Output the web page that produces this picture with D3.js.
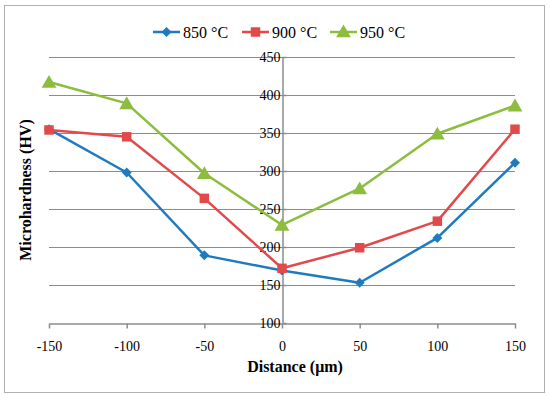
<!DOCTYPE html>
<html>
<head>
<meta charset="utf-8">
<script src="https://cdn.jsdelivr.net/npm/d3@7"></script>
<style>
body{margin:0;background:#fff;}
text{font-family:"Liberation Serif","Times New Roman",serif;fill:#000;}
</style>
</head>
<body>
<svg id="chart" width="550" height="398"></svg>
<script>
'use strict'
// data
var distances = [-150, -100, -50, 0, 50, 100, 150];
var hv850 = [355, 298, 189, 169, 153, 212, 311];
var hv900 = [354, 345, 264, 172, 199, 234, 355];
var hv950 = [417, 389, 297, 229, 277, 349, 386];
var seriesNames = ['850 °C', '900 °C', '950 °C'];
var yTicks = [100, 150, 200, 250, 300, 350, 400, 450];
var xTicks = [-150, -100, -50, 0, 50, 100, 150];

var colors = ['#1f7bc0', '#e2494b', '#8cbd3f'];
var symbols = [d3.symbolSquare, d3.symbolSquare, d3.symbolTriangle];
var symSizes = [50, 90, 95];
var symRotate = [45, 0, 0];

var svg = d3.select('#chart');
var x = d3.scaleLinear().domain([-150, 150]).range([49, 515]);
var y = d3.scaleLinear().domain([100, 450]).range([323, 57]);
var fmt = function(d){ return String(d); };

// outer frame
svg.append('rect').attr('x', 4.5).attr('y', 5.5).attr('width', 540).attr('height', 387)
	.attr('fill', 'none').attr('stroke', '#b0b0b0').attr('stroke-width', 1);

// gridlines
svg.append('g').selectAll('line').data(yTicks.slice(1)).join('line')
	.attr('x1', x(-150)).attr('x2', x(150))
	.attr('y1', function(d){ return Math.round(y(d)) + 0.5; })
	.attr('y2', function(d){ return Math.round(y(d)) + 0.5; })
	.attr('stroke', '#8c8c8c').attr('stroke-width', 1);

// x axis
var xAxis = svg.append('g').attr('transform', 'translate(0,' + (Math.round(y(100)) + 0.5) + ')')
	.call(d3.axisBottom(x).tickValues(xTicks).tickFormat(fmt).tickSize(5).tickSizeOuter(0).tickPadding(13));
// y axis at x = 0
var yAxis = svg.append('g').attr('transform', 'translate(' + (Math.round(x(0)) + 0.5) + ',0)')
	.call(d3.axisLeft(y).tickValues(yTicks).tickFormat(fmt).tickSize(-4).tickSizeOuter(0).tickPadding(8));

[xAxis, yAxis].forEach(function(a){
	a.select('.domain').attr('stroke', '#8c8c8c').attr('stroke-width', 1.5);
	a.selectAll('.tick line').attr('stroke', '#8c8c8c').attr('stroke-width', 1.5);
	a.selectAll('text').style('font-family', '"Liberation Serif", serif').style('font-size', '14px').attr('fill', '#000');
});
yAxis.selectAll('.tick text').attr('x', -2).attr('dy', '0.35em');

// series
var series = [hv850, hv900, hv950];
var line = d3.line().x(function(d, i){ return x(distances[i]); }).y(function(d){ return y(d); });

series.forEach(function(vals, k){
	svg.append('path').datum(vals).attr('d', line)
		.attr('fill', 'none').attr('stroke', colors[k]).attr('stroke-width', 2.5)
		.attr('stroke-linejoin', 'round');
});
series.forEach(function(vals, k){
	svg.append('g').selectAll('path').data(vals).join('path')
		.attr('d', d3.symbol().type(symbols[k]).size(symSizes[k]))
		.attr('transform', function(d, i){
			var dy = k === 2 ? 1.5 : 0;
			return 'translate(' + x(distances[i]) + ',' + (y(d) + dy) + ') rotate(' + symRotate[k] + ')';
		})
		.attr('fill', colors[k]);
});

// axis titles
svg.append('text').attr('x', 295).attr('y', 372).attr('text-anchor', 'middle')
	.style('font-size', '16px').style('font-weight', 'bold').text('Distance (μm)');
svg.append('text').attr('transform', 'translate(31,190) rotate(-90)').attr('text-anchor', 'middle')
	.style('font-size', '16px').style('font-weight', 'bold').text('Microhardness (HV)');

// legend
var legendX = [153, 242, 330];
var legend = svg.append('g').selectAll('g').data(seriesNames).join('g')
	.attr('transform', function(d, i){ return 'translate(' + legendX[i] + ',32)'; });
legend.append('line').attr('x1', 0).attr('x2', 27).attr('y1', 0).attr('y2', 0)
	.attr('stroke', function(d, i){ return colors[i]; }).attr('stroke-width', 2.5);
legend.append('path')
	.attr('d', function(d, i){ return d3.symbol().type(symbols[i]).size(symSizes[i])(); })
	.attr('transform', function(d, i){ return 'translate(13.5,' + (i === 2 ? 1 : 0) + ') rotate(' + symRotate[i] + ')'; })
	.attr('fill', function(d, i){ return colors[i]; });
legend.append('text').attr('x', 30).attr('y', 0).attr('dy', '0.35em')
	.style('font-size', '16px').text(function(d){ return d; });
</script>
</body>
</html>
